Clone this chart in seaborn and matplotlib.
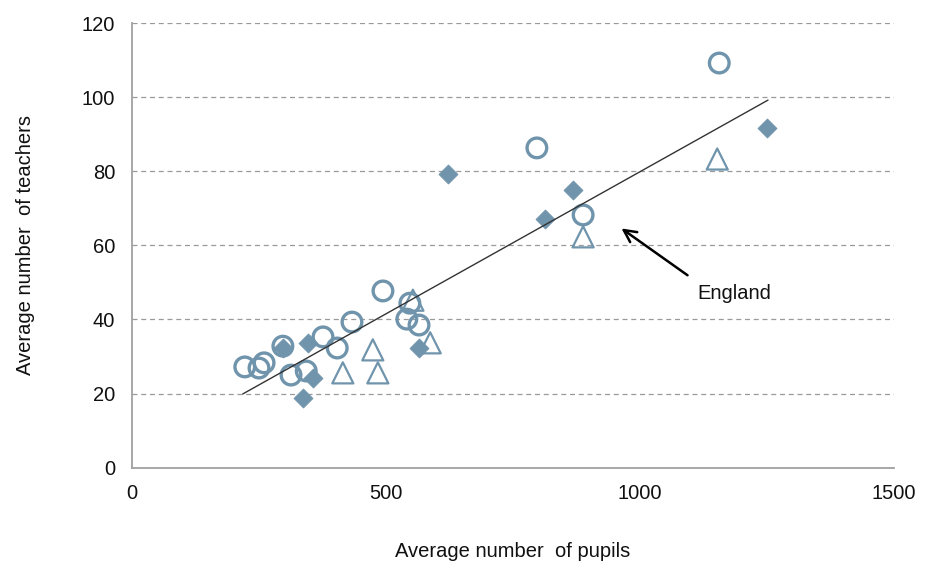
import pandas as pd
import seaborn as sns
import matplotlib.pyplot as plt

# data
circle_x = [222, 250, 260, 297, 313, 343, 376, 404, 433, 494, 547, 541, 565, 797, 888, 1156]
circle_y = [27.2, 26.9, 28.3, 32.8, 25.0, 26.1, 35.3, 32.3, 39.3, 47.7, 44.4, 40.1, 38.5, 86.3, 68.2, 109.2]
triangle_x = [474, 415, 484, 553, 587, 888, 1152]
triangle_y = [31.8, 25.6, 25.6, 45.2, 33.7, 62.3, 83.3]
diamond_x = [297, 346, 356, 337, 565, 622, 813, 868, 1250]
diamond_y = [32.4, 33.6, 24.2, 18.8, 32.3, 79.2, 67.1, 74.9, 91.7]
trend_x = [218, 1252]
trend_y = [19.9, 99.2]

col = '#6F94AC'

sns.set_style('white')
plt.rcParams['font.family'] = ['Liberation Sans', 'DejaVu Sans']

fig = plt.figure(figsize=(9.25, 5.64), dpi=100)
ax = fig.add_axes([0.1427, 0.1707, 0.8238, 0.7885])

# gridlines
for g in range(20, 121, 20):
    ax.axhline(g, color='#9a9a9a', lw=0.9, ls=(0, (4, 3)), zorder=0)

df_c = pd.DataFrame({'x': circle_x, 'y': circle_y})
df_t = pd.DataFrame({'x': triangle_x, 'y': triangle_y})
df_d = pd.DataFrame({'x': diamond_x, 'y': diamond_y})

sns.scatterplot(data=df_d, x='x', y='y', marker='D', s=95, color=col,
                edgecolor=col, linewidth=0.5, ax=ax, zorder=3)
sns.scatterplot(data=df_c, x='x', y='y', marker='o', s=200, facecolor='none',
                edgecolor=col, linewidth=2.4, ax=ax, zorder=4)
sns.scatterplot(data=df_t, x='x', y='y', marker='^', s=230, facecolor='none',
                edgecolor=col, linewidth=1.6, ax=ax, zorder=4)
sns.lineplot(x=trend_x, y=trend_y, color='#333333', lw=1.0, ax=ax, zorder=5)

ax.annotate('', xy=(959, 65.0), xytext=(1098, 51.5),
            arrowprops=dict(arrowstyle='->', color='black', lw=1.8,
                            mutation_scale=22))
ax.text(1112, 47.1, 'England', fontsize=14.5, va='center', ha='left', color='#111111')

ax.set_xlim(0, 1500)
ax.set_ylim(0, 120)
ax.set_xticks([0, 500, 1000, 1500])
ax.set_yticks(range(0, 121, 20))
ax.tick_params(axis='both', labelsize=14.5, length=5, width=1, color='#a0a0a0',
               direction='out', pad=7, labelcolor='#111111')
for s in ['top', 'right']:
    ax.spines[s].set_visible(False)
for s in ['left', 'bottom']:
    ax.spines[s].set_color('#a0a0a0')
    ax.spines[s].set_linewidth(1.3)

ax.set_xlabel('Average number  of pupils', fontsize=14.5, labelpad=28, color='#111111')
ax.set_ylabel('Average number  of teachers', fontsize=14.5, labelpad=34, color='#111111')

plt.savefig('out.png', dpi=100)
